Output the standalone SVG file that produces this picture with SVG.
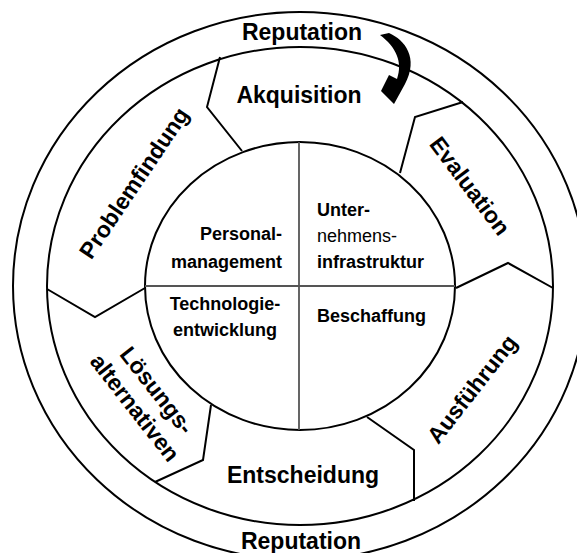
<svg xmlns="http://www.w3.org/2000/svg" width="577" height="553" viewBox="0 0 577 553">
<style>
.ring{fill:none;stroke:#000;stroke-width:2}
.bd{fill:none;stroke:#000;stroke-width:2;stroke-linejoin:miter}
.div{stroke:#555;stroke-width:1.8}
.big{font-family:"Liberation Sans",Arial,sans-serif;font-weight:bold;font-size:23px;fill:#000;text-anchor:middle}
.sm{font-family:"Liberation Sans",Arial,sans-serif;font-weight:bold;font-size:18px;fill:#000}
.nb{font-weight:normal}
</style>
<rect width="577" height="553" fill="#fff"/>
<g id="rings">
<ellipse class="ring" cx="300" cy="286" rx="287" ry="274"/>
<ellipse class="ring" cx="300" cy="286" rx="253" ry="239"/>
<ellipse class="ring" cx="300" cy="286" rx="155" ry="144"/>
<line class="div" x1="145" y1="286" x2="455" y2="286"/>
<line class="div" x1="299" y1="142" x2="299" y2="430"/>
</g>
<g id="boundaries">
<polyline class="bd" points="220,57 207,107 242,151"/>
<polyline class="bd" points="463,102 415,117 400,173"/>
<polyline class="bd" points="553,288 508,263 456,288"/>
<polyline class="bd" points="367,417 414,450 414,501"/>
<polyline class="bd" points="211,405 203,460 155,482"/>
<polyline class="bd" points="47,289 95,317 145,288"/>
</g>
<g id="reputation-top"><text class="big" x="302" y="40">Reputation</text></g>
<g id="reputation-bottom"><text class="big" x="301" y="549">Reputation</text></g>
<g id="akquisition"><text class="big" x="299" y="103">Akquisition</text></g>
<g id="evaluation"><text class="big" transform="translate(470,186) rotate(53)" x="0" y="8">Evaluation</text></g>
<g id="ausfuehrung"><text class="big" transform="translate(472,389) rotate(-52)" x="0" y="8">Ausführung</text></g>
<g id="entscheidung"><text class="big" x="303" y="483">Entscheidung</text></g>
<g id="loesungsalternativen"><text class="big" transform="translate(146,399) rotate(52)"><tspan x="0" y="-6">Lösungs-</tspan><tspan x="0" y="22">alternativen</tspan></text></g>
<g id="problemfindung"><text class="big" transform="translate(134,183) rotate(-56)" x="0" y="8">Problemfindung</text></g>
<g id="personalmanagement"><text class="sm" text-anchor="end"><tspan x="282" y="240">Personal-</tspan><tspan x="282" y="268">management</tspan></text></g>
<g id="unternehmensinfrastruktur"><text class="sm"><tspan x="317" y="216">Unter-</tspan><tspan class="nb" x="317" y="242">nehmens-</tspan><tspan x="317" y="268">infrastruktur</tspan></text></g>
<g id="technologieentwicklung"><text class="sm" text-anchor="middle"><tspan x="225" y="310">Technologie-</tspan><tspan x="225" y="336">entwicklung</tspan></text></g>
<g id="beschaffung"><text class="sm"><tspan x="317" y="322">Beschaffung</tspan></text></g>
<g id="connectors">
<path d="M380 35 L389 33 C405 40 419 58 405 84 L394 104 L381 91 L389 75 L397 79 C403 62 396 47 380 35 Z" fill="#000"/>
</g>
</svg>
